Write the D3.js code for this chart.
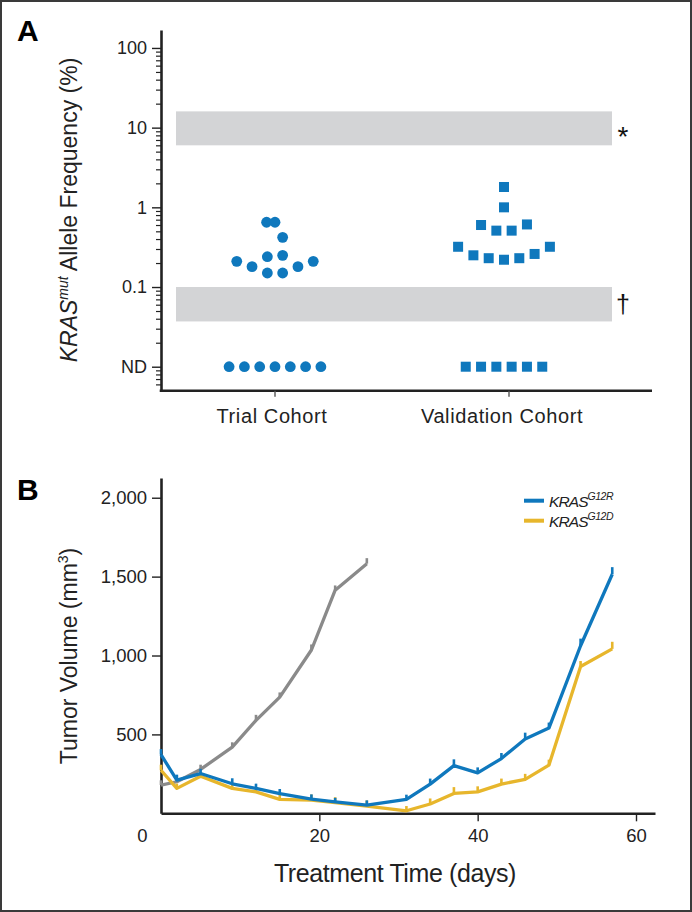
<!DOCTYPE html>
<html><head><meta charset="utf-8">
<script src="https://cdn.jsdelivr.net/npm/d3@7"></script>
<style>
body{margin:0;background:#fff}
svg{display:block;font-family:"Liberation Sans",Arial,Helvetica,sans-serif}
</style>
</head><body>
<svg id="c" width="692" height="912"></svg>
<script>
// ---------- Panel A data ----------
const cohorts = ["Trial Cohort", "Validation Cohort"];
const trialValues = [0.65, 0.65, 0.42, 0.21, 0.18, 0.24, 0.25, 0.15, 0.15, 0.18, 0.21,
  "ND", "ND", "ND", "ND", "ND", "ND", "ND"];
const trialSlots = [-0.55, 0, 0.5, -2.5, -1.5, -0.5, 0.5, -0.5, 0.5, 1.5, 2.5,
  -3, -2, -1, 0, 1, 2, 3];
const validationValues = [1.8, 1.0, 0.60, 0.51, 0.51, 0.61, 0.32, 0.25, 0.23, 0.22, 0.23, 0.26, 0.32,
  "ND", "ND", "ND", "ND", "ND", "ND"];
const validationSlots = [0, 0, -1.5, -0.5, 0.5, 1.5, -3, -2, -1, 0, 1, 2, 3,
  -2.5, -1.5, -0.5, 0.5, 1.5, 2.5];
const freqTicks = [100, 10, 1, 0.1, "ND"];
const ndLevel = 0.01;            // where "not detected" is placed on the log axis
const bandRanges = [[6, 16], [0.037, 0.1]];
const bandMarks = ["*", "\u2020"];

// ---------- Panel B data ----------
const days = [0, 2, 5, 9, 12, 15, 19, 22, 26, 31, 34, 37, 40, 43, 46, 49, 53, 57];
const g12rValues = [372, 210, 252, 187, 158, 124, 90, 73, 52, 88, 185, 302, 256, 347, 471, 540, 1062, 1515];
const g12rErr    = [35, 35, 30, 35, 30, 30, 30, 25, 30, 30, 35, 40, 35, 35, 40, 35, 45, 45];
const g12dValues = [273, 158, 235, 158, 136, 88, 84, 67, 46, 16, 59, 126, 136, 185, 215, 305, 930, 1042];
const g12dErr    = [35, 30, 30, 30, 30, 30, 35, 35, 35, 30, 35, 40, 35, 35, 35, 35, 35, 45];
const controlDays   = [0, 2, 5, 9, 12, 15, 19, 22, 26];
const controlValues = [179, 200, 278, 420, 589, 736, 1035, 1414, 1582];
const controlErr    = [30, 40, 30, 30, 35, 30, 35, 30, 35];
const volumeTicks = [500, 1000, 1500, 2000];
const dayTicks = [0, 20, 40, 60];
const legendLabels = [["KRAS", "G12R"], ["KRAS", "G12D"]];

// ---------- styles ----------
const BLUE = "#0f78bd", YELLOW = "#e7b62c", GRAY = "#8a8a8a", AX = "#222";

const svg = d3.select("#c");
// frame
svg.append("rect").attr("x", 1).attr("y", 1).attr("width", 690).attr("height", 910)
  .attr("fill", "none").attr("stroke", "#3a3a3a").attr("stroke-width", 2);

// ================= PANEL A =================
const yA = d3.scaleLog().domain([0.005, 168]).range([390.7, 30]);
const xA = d3.scaleOrdinal().domain(cohorts).range([275, 504]);
const slot = d3.scaleLinear().domain([0, 1]).range([0, 15.3]);
const axA = 161, bottomA = 390.7;
const val = v => v === "ND" ? ndLevel : v;

const gA = svg.append("g");
svg.append("text").attr("x", 17).attr("y", 41).attr("font-size", 30).attr("font-weight", "bold").text("A");

// bands
bandRanges.forEach((r, i) => {
  gA.append("rect").attr("x", 176).attr("width", 612 - 176)
    .attr("y", yA(r[1])).attr("height", yA(r[0]) - yA(r[1]))
    .attr("fill", "#d3d4d6");
  const ymid = (yA(r[0]) + yA(r[1])) / 2;
  gA.append("text").attr("x", 623).attr("y", ymid).attr("dy", i === 0 ? "0.62em" : "0.36em")
    .attr("text-anchor", "middle").attr("font-size", i === 0 ? 28 : 25).attr("fill", "#111")
    .text(bandMarks[i]);
});

// y axis (log) with minor ticks
const minors = [];
for (let k = -3; k <= 1; k++) for (let m = 2; m <= 9; m++) {
  const v = m * Math.pow(10, k);
  if (v > 0.0055 && v < 100) minors.push(v);
}
const majorsNum = freqTicks.map(val);
const yAxisMinor = d3.axisLeft(yA).tickValues(minors).tickSize(5).tickSizeOuter(0).tickFormat("");
const yAxisMajor = d3.axisLeft(yA).tickValues(majorsNum).tickSize(9).tickSizeOuter(0)
  .tickFormat((d, i) => freqTicks[i]);
const gmin = gA.append("g").attr("transform", `translate(${axA},0)`).call(yAxisMinor);
const gmaj = gA.append("g").attr("transform", `translate(${axA},0)`).call(yAxisMajor);
[gmin, gmaj].forEach(g => {
  g.select(".domain").attr("stroke", AX).attr("stroke-width", 2.6);
  g.selectAll(".tick line").attr("stroke", AX).attr("stroke-width", 1.2);
});
gmaj.selectAll(".tick line").attr("stroke-width", 1.4);
gmaj.selectAll(".tick text").attr("font-size", 18).attr("fill", "#222").attr("x", -14)
  .attr("font-family", null);
gmin.select(".domain").remove();

// x axis panel A
gA.append("line").attr("x1", axA - 1.3).attr("x2", 652).attr("y1", bottomA).attr("y2", bottomA)
  .attr("stroke", AX).attr("stroke-width", 2.6);
cohorts.forEach((c, i) => {
  const tx = i === 0 ? xA(c) : 509;
  gA.append("line").attr("x1", tx).attr("x2", tx).attr("y1", bottomA).attr("y2", bottomA + 6)
    .attr("stroke", "#555").attr("stroke-width", 1.4);
  gA.append("text").attr("x", i === 0 ? 272 : 502).attr("y", 422.7).attr("text-anchor", "middle")
    .attr("font-size", 20).attr("letter-spacing", 0.6).attr("fill", "#222").text(c);
});

// y title A
const tA = gA.append("text").attr("transform", "translate(77,210) rotate(-90)")
  .attr("text-anchor", "middle").attr("font-size", 23).attr("fill", "#222");
tA.append("tspan").attr("font-style", "italic").text("KRAS");
tA.append("tspan").attr("font-style", "italic").attr("font-size", 14).attr("dy", -9).text("mut");
tA.append("tspan").attr("dy", 9).text(" Allele Frequency (%)");

// points
const trialPts = trialValues.map((v, i) => ({c: cohorts[0], v: val(v), s: trialSlots[i]}));
const valPts = validationValues.map((v, i) => ({c: cohorts[1], v: val(v), s: validationSlots[i]}));
gA.selectAll("circle.pt").data(trialPts).join("circle").attr("class", "pt")
  .attr("cx", d => xA(d.c) + slot(d.s)).attr("cy", d => yA(d.v)).attr("r", 5.4).attr("fill", BLUE);
gA.selectAll("rect.pt").data(valPts).join("rect").attr("class", "pt")
  .attr("x", d => xA(d.c) + slot(d.s) - 5).attr("y", d => yA(d.v) - 5)
  .attr("width", 10).attr("height", 10).attr("fill", BLUE);

// ================= PANEL B =================
const gB = svg.append("g");
svg.append("text").attr("x", 17).attr("y", 500).attr("font-size", 30).attr("font-weight", "bold").text("B");
const xB = d3.scaleLinear().domain([0, 62.4]).range([161, 655]);
const yB = d3.scaleLinear().domain([0, 2125]).range([813.3, 478]);

const yAxisB = d3.axisLeft(yB).tickValues(volumeTicks).tickSize(9).tickSizeOuter(0)
  .tickFormat(d3.format(","));
const gyB = gB.append("g").attr("transform", `translate(161,0)`).call(yAxisB);
gyB.select(".domain").attr("stroke", AX).attr("stroke-width", 2.6);
gyB.selectAll(".tick line").attr("stroke", AX).attr("stroke-width", 1.4);
gyB.selectAll(".tick text").attr("font-size", 18.5).attr("fill", "#222").attr("x", -14).attr("font-family", null);

const xAxisB = d3.axisBottom(xB).tickValues(dayTicks).tickSize(8).tickSizeOuter(0);
const gxB = gB.append("g").attr("transform", `translate(0,813.3)`).call(xAxisB);
gxB.select(".domain").attr("stroke", AX).attr("stroke-width", 2.6);
gxB.selectAll(".tick line").attr("stroke", AX).attr("stroke-width", 1.4);
gxB.selectAll(".tick").filter(d => d === 0).select("line").remove();
gxB.selectAll(".tick text").attr("font-size", 18.5).attr("fill", "#222").attr("y", 16).attr("font-family", null)
  .attr("dx", d => d === 0 ? -19 : 0);

// titles B
const tB = gB.append("text").attr("transform", "translate(77,656) rotate(-90)")
  .attr("text-anchor", "middle").attr("font-size", 23).attr("fill", "#222");
tB.append("tspan").text("Tumor Volume (mm");
tB.append("tspan").attr("font-size", 14).attr("dy", -9).text("3");
tB.append("tspan").attr("dy", 9).text(")");
gB.append("text").attr("x", 395).attr("y", 881.7).attr("text-anchor", "middle")
  .attr("font-size", 25).attr("letter-spacing", -0.4).attr("fill", "#222").text("Treatment Time (days)");

// series
const series = [
  {days: controlDays, vals: controlValues, err: controlErr, color: GRAY},
  {days: days, vals: g12dValues, err: g12dErr, color: YELLOW},
  {days: days, vals: g12rValues, err: g12rErr, color: BLUE}
];
const line = d3.line().x(d => xB(d.d)).y(d => yB(d.v));
series.forEach(s => {
  const pts = s.days.map((d, i) => ({d, v: s.vals[i], e: s.err[i]}));
  gB.selectAll(null).data(pts).join("line")
    .attr("x1", d => xB(d.d)).attr("x2", d => xB(d.d))
    .attr("y1", d => yB(d.v)).attr("y2", d => yB(d.v + d.e))
    .attr("stroke", s.color).attr("stroke-width", 2.6);
  gB.append("path").datum(pts).attr("d", line).attr("fill", "none")
    .attr("stroke", s.color).attr("stroke-width", 3.3).attr("stroke-linejoin", "round");
});

// legend
const legColors = [BLUE, YELLOW];
legendLabels.forEach((lab, i) => {
  const y = 500.7 + i * 20;
  gB.append("line").attr("x1", 524).attr("x2", 544).attr("y1", y).attr("y2", y)
    .attr("stroke", legColors[i]).attr("stroke-width", 4);
  const t = gB.append("text").attr("x", 549).attr("y", y + 6).attr("font-size", 15.5)
    .attr("font-style", "italic").attr("fill", "#222").attr("letter-spacing", -0.9);
  t.append("tspan").text(lab[0]);
  t.append("tspan").attr("font-size", 10.5).attr("dy", -7).attr("letter-spacing", -0.5).text(lab[1]);
});
</script>
</body></html>
